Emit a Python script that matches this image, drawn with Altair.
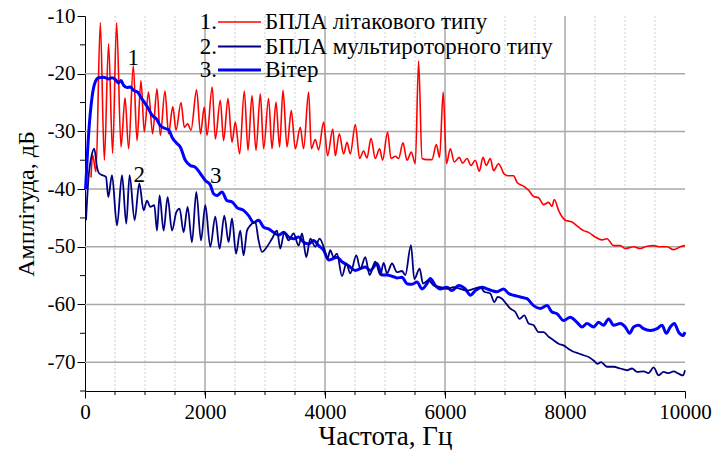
import altair as alt
import pandas as pd

FONT = "Liberation Serif, Times New Roman, Tinos, serif"

# Spectrum of the fixed-wing UAV (frequency, Hz / amplitude, dB)
red_f = [100, 127, 183, 255, 322, 393, 460, 527, 600, 667, 727, 805, 867, 933, 988,
         1058, 1127, 1200, 1255, 1333, 1393, 1463, 1517, 1600, 1655, 1710, 1767, 1860,
         1925, 1988, 2033, 2120, 2172, 2255, 2310, 2383, 2450, 2505, 2577, 2655, 2717,
         2783, 2850, 2922, 2977, 3060, 3117, 3183, 3243, 3300, 3367, 3438, 3505, 3588,
         3643, 3727, 3772, 3838, 3893, 3977, 4043, 4130, 4172, 4238, 4310, 4367, 4422,
         4505, 4577, 4643, 4700, 4767, 4838, 4910, 4960, 5043, 5100, 5172, 5227, 5300,
         5367, 5438, 5505, 5560, 5617, 5700, 5783, 5855, 5910, 5970, 6025, 6088, 6155,
         6238, 6293, 6367, 6433, 6505, 6572, 6633, 6688, 6755, 6810, 6893, 6988, 7060,
         7143, 7200, 7310, 7393, 7477, 7560, 7643, 7727, 7783, 7822, 7893, 8005, 8117,
         8227, 8310, 8393, 8505, 8617, 8700, 8810, 8922, 9005, 9143, 9255, 9367, 9477,
         9588, 9700, 9810, 9922, 10000]
red_db = [-38, -34.1, -37, -11.2, -35, -14.8, -33.8, -11.2, -32.7, -24.2, -33, -18.6,
          -31.6, -21.2, -30.1, -23.2, -30.4, -22.6, -30.7, -23, -30.4, -25.7, -29.8,
          -25, -29.3, -28.7, -29.8, -22.8, -30.4, -25.8, -30.7, -22.3, -31.3, -24.6,
          -31.6, -24.3, -31.9, -28.4, -33.9, -23, -33.3, -23.8, -33.3, -23.5, -33,
          -24.3, -33, -24.9, -32.7, -22.9, -32.7, -26.4, -33, -29.3, -33, -23.2, -33,
          -31.4, -33.2, -28.4, -34.2, -29.6, -34.2, -30.4, -33.9, -31.9, -33.9, -28.8,
          -34.7, -33.4, -34.6, -31.2, -34.7, -33, -35, -30.1, -34.7, -34.3, -34.7, -32,
          -35, -33.6, -35.6, -17.8, -34.7, -34.9, -34.9, -32.3, -34.5, -23.2, -35.6,
          -33, -35.3, -34.5, -35.5, -34.7, -35.9, -35, -36.9, -34.5, -35.9, -34.7,
          -36.8, -35.6, -37.4, -37.7, -37.7, -38.8, -39.5, -40.2, -41.3, -41.5, -42.7,
          -42.3, -43, -41.8, -43.7, -45.4, -45.7, -46.6, -47.2, -47.5, -48.3, -48.8,
          -48.6, -49.8, -49.8, -50.3, -50, -50.3, -49.9, -49.8, -50, -50, -50.5, -50,
          -49.8]

# Spectrum of the multirotor UAV
navy_f = [17, 55, 110, 155, 200, 238, 293, 350, 388, 450, 533, 617, 688, 743, 827, 905,
          977, 1033, 1088, 1155, 1200, 1243, 1310, 1377, 1450, 1522, 1577, 1643, 1710,
          1783, 1855, 1933, 2005, 2088, 2172, 2243, 2322, 2393, 2450, 2517, 2588, 2643,
          2700, 2755, 2838, 2893, 2950, 3033, 3117, 3200, 3255, 3322, 3393, 3477, 3560,
          3617, 3688, 3755, 3838, 3910, 3977, 4043, 4088, 4143, 4200, 4283, 4355, 4422,
          4522, 4588, 4672, 4743, 4838, 4922, 4977, 5033, 5117, 5200, 5283, 5338, 5433,
          5488, 5577, 5633, 5727, 5810, 5922, 6033, 6143, 6255, 6367, 6477, 6588, 6655,
          6755, 6822, 6877, 6950, 7022, 7088, 7172, 7243, 7322, 7393, 7477, 7560, 7643,
          7727, 7810, 7893, 7977, 8060, 8143, 8227, 8310, 8393, 8477, 8543, 8600, 8700,
          8810, 8922, 9033, 9117, 9200, 9310, 9393, 9477, 9560, 9643, 9727, 9810, 9893,
          9967, 10000]
navy_db = [-45.4, -38.5, -34.2, -33, -36.2, -37.3, -37.6, -37.9, -41.4, -37.6, -46.3,
           -37.6, -46, -37.6, -45.4, -39, -43.7, -42, -43.1, -42.8, -47.2, -41.1, -47.2,
           -41.4, -47.2, -44, -43.4, -47.5, -43.1, -49.2, -40.5, -48.9, -42.8, -50,
           -44.8, -50.3, -44.6, -49.2, -45.1, -51.2, -47.2, -51.5, -47.2, -46.3, -45.7,
           -48.9, -50.9, -50, -48.6, -47.2, -50.3, -47.5, -48.9, -47.7, -49.8, -47.7,
           -51.8, -48.6, -50, -48.6, -50, -52, -50.6, -51.8, -51.2, -55.1, -52.9, -54.6,
           -51.5, -53.8, -51.8, -54.9, -52.6, -54.9, -52.8, -54.6, -52.9, -54.4, -54.2,
           -54.9, -49.7, -55.6, -53.8, -56.4, -55.8, -56.7, -57, -57.3, -57, -57.3,
           -57.6, -57.3, -57, -57.8, -58.1, -59.6, -58.7, -59, -59.9, -60.7, -61.3,
           -62.5, -61.9, -63.3, -63.6, -64.8, -64.8, -65.6, -66.2, -66.8, -67.1, -67.7,
           -68.2, -68.5, -68.8, -69.1, -69.7, -70.3, -70, -70.8, -70.8, -71.1, -71.4,
           -71.1, -71.7, -71.6, -71.9, -70.9, -72.3, -71.7, -71.9, -71.6, -72, -72.3,
           -71.4]

# Wind noise spectrum
blue_f = [10, 61, 117, 172, 227, 310, 393, 450, 505, 560, 600, 643, 700, 755, 810, 877,
          933, 1005, 1060, 1117, 1188, 1255, 1338, 1393, 1450, 1533, 1588, 1672, 1755,
          1838, 1922, 2005, 2088, 2143, 2200, 2283, 2367, 2450, 2533, 2643, 2727, 2810,
          2893, 2977, 3060, 3143, 3227, 3310, 3393, 3477, 3560, 3643, 3727, 3810, 3893,
          3977, 4060, 4143, 4200, 4283, 4393, 4505, 4588, 4672, 4755, 4867, 4950, 5033,
          5117, 5200, 5283, 5367, 5450, 5533, 5617, 5700, 5755, 5838, 5922, 6033, 6117,
          6227, 6338, 6422, 6505, 6617, 6700, 6783, 6867, 6977, 7060, 7143, 7255, 7367,
          7477, 7588, 7700, 7783, 7867, 7977, 8088, 8200, 8283, 8367, 8477, 8560, 8643,
          8727, 8810, 8922, 9005, 9077, 9143, 9227, 9310, 9422, 9533, 9617, 9688, 9755,
          9822, 9893, 9967, 10000]
blue_db = [-40, -30.4, -24.1, -21.4, -20.7, -20.6, -20.9, -20.7, -21, -21.6, -21.2, -22,
           -22.4, -22.3, -22.9, -23.2, -24.1, -25.2, -26.1, -27.2, -27.8, -29, -29.5,
           -29.7, -31, -32.1, -32.7, -35, -35.9, -36.2, -37.3, -38.5, -39.3, -40.8,
           -41.1, -40.5, -42, -42.2, -43.2, -43.7, -44.6, -45.8, -45.4, -46.6, -46.9,
           -47.5, -48, -47.5, -48.3, -48.6, -48.3, -49.2, -49.5, -48.9, -49.8, -50.6,
           -52.3, -52, -51.8, -52.6, -53.3, -54.1, -53.8, -53.5, -54.1, -52.9, -54.9,
           -54.9, -55.1, -55.4, -55.3, -56.4, -56.5, -56.1, -57.3, -56.4, -55.5, -56.7,
           -57.3, -57, -57.6, -56.7, -57.3, -58.4, -57.6, -57, -57.3, -57.6, -57.8,
           -57.3, -58.1, -58.4, -58.7, -59, -60.2, -60.7, -60.2, -61.3, -61.6, -62.8,
           -62.2, -63.1, -63.9, -63.3, -63.9, -63.1, -63.6, -62.5, -63.6, -63.3, -63.9,
           -65, -63.9, -63.6, -64.2, -64.5, -64.2, -63.6, -65, -63.9, -63.3, -64.8,
           -65.4, -64.8]

# Curve numbers written next to the curves
note_text = ["1", "2", "3"]
note_f = [805, 905, 2180]
note_db = [-17.2, -37.5, -37.8]

# Legend entries
legend_num = ["1.", "2.", "3."]
legend_label = ["БПЛА літакового типу", "БПЛА мультироторного типу", "Вітер"]
legend_color = ["#ff0000", "#000080", "#0000ff"]
legend_width = [1.6, 1.8, 3.0]

# Axis ticks and grid
x_ticks = [0, 2000, 4000, 6000, 8000, 10000]
x_minor = list(range(500, 10000, 500))
x_grid_major = [2000, 4000, 6000, 8000]
x_grid_minor = [v for v in x_minor if v not in x_grid_major]
y_ticks = [-70, -60, -50, -40, -30, -20, -10]
y_minor = [-75, -65, -55, -45, -35, -25, -15]
y_grid = [-70, -60, -50, -40, -30, -20]

W, H = 600, 375
xs = alt.Scale(domain=[0, 10000], nice=False, zero=False)
ys = alt.Scale(domain=[-75, -10], nice=False, zero=False)

red = pd.DataFrame({"f": red_f, "db": red_db})
navy = pd.DataFrame({"f": navy_f, "db": navy_db})
blue = pd.DataFrame({"f": blue_f, "db": blue_db})

x_axis = alt.Axis(values=x_ticks, format="d", title="Частота, Гц", grid=False,
                  tickSize=7, tickColor="black", domainColor="black", labelPadding=3,
                  labelFlush=False, titlePadding=1, titleFontSize=27)
y_axis = alt.Axis(values=y_ticks, labelExpr="'' + datum.value", title="Амплітуда, дБ",
                  grid=False, tickSize=8, tickColor="black", domainColor="black",
                  labelPadding=2, labelFlush=False, titlePadding=9, titleFontSize=24)

grid_minor = alt.Chart(pd.DataFrame({"v": x_grid_minor})).mark_rule(
    color="#cfcfcf", strokeDash=[2, 2], strokeWidth=1).encode(x=alt.X("v:Q", scale=xs))
grid_major = alt.Chart(pd.DataFrame({"v": x_grid_major})).mark_rule(
    color="#a8a8a8", strokeWidth=1.5).encode(x=alt.X("v:Q", scale=xs))
grid_y = alt.Chart(pd.DataFrame({"v": y_grid})).mark_rule(
    color="#a8a8a8", strokeWidth=1.5).encode(y=alt.Y("v:Q", scale=ys))

minor_x_ticks = alt.Chart(pd.DataFrame({"v": x_minor})).mark_rule(
    color="black", strokeWidth=1).encode(
    x=alt.X("v:Q", scale=xs), y=alt.value(H), y2=alt.value(H + 4))
minor_y_ticks = alt.Chart(pd.DataFrame({"v": y_minor})).mark_rule(
    color="black", strokeWidth=1).encode(
    y=alt.Y("v:Q", scale=ys), x=alt.value(-5), x2=alt.value(0))


def curve(df, color, width):
    return alt.Chart(df).mark_line(color=color, strokeWidth=width, interpolate="monotone",
                                   strokeJoin="round").encode(
        x=alt.X("f:Q", scale=xs, axis=x_axis),
        y=alt.Y("db:Q", scale=ys, axis=y_axis),
    )


red_line = curve(red, "#ff0000", 1.6)
blue_line = curve(blue, "#0000ff", 3.0)
navy_line = curve(navy, "#000080", 1.8)

notes = alt.Chart(pd.DataFrame({"t": note_text, "f": note_f, "db": note_db})).mark_text(
    font=FONT, fontSize=23, color="black", baseline="middle", align="center").encode(
    x=alt.X("f:Q", scale=xs), y=alt.Y("db:Q", scale=ys), text="t:N")

legend_layers = []
row_y = [6, 30.5, 54]
for num, lab, col, sw, yy in zip(legend_num, legend_label, legend_color, legend_width, row_y):
    row = pd.DataFrame({"num": [num], "lab": [lab]})
    legend_layers.append(alt.Chart(row).mark_text(
        font=FONT, fontSize=23, align="right", baseline="middle", color="black").encode(
        x=alt.value(132), y=alt.value(yy), text="num:N"))
    legend_layers.append(alt.Chart(row).mark_rule(color=col, strokeWidth=sw).encode(
        x=alt.value(133), x2=alt.value(176), y=alt.value(yy)))
    legend_layers.append(alt.Chart(row).mark_text(
        font=FONT, fontSize=23, align="left", baseline="middle", color="black").encode(
        x=alt.value(180), y=alt.value(yy), text="lab:N"))

chart = alt.layer(
    grid_minor, grid_major, grid_y, minor_x_ticks, minor_y_ticks,
    red_line, blue_line, navy_line, notes, *legend_layers,
).properties(
    width=W, height=H,
    autosize=alt.AutoSizeParams(type="none"),
    padding={"left": 85, "top": 16, "right": 31, "bottom": 59},
    background="white",
).configure_view(stroke=None).configure_axis(
    labelFont=FONT, titleFont=FONT, labelFontSize=21,
    labelColor="black", titleColor="black", titleFontWeight="normal",
    domainWidth=1, tickWidth=1,
)

chart.save("out.html", embed_options={"renderer": "svg", "actions": False})
